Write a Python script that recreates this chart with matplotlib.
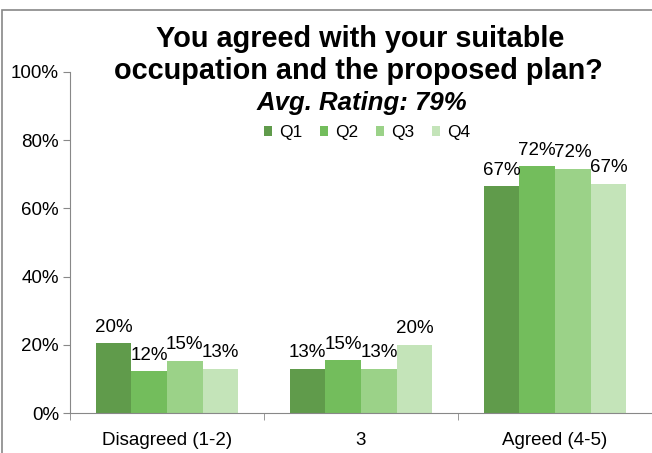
import numpy as np
import matplotlib
matplotlib.use('Agg')
import matplotlib.pyplot as plt
from matplotlib.patches import Rectangle

categories = ['Disagreed (1-2)', '3', 'Agreed (4-5)']
series = ['Q1', 'Q2', 'Q3', 'Q4']
q1 = [20.5, 13.0, 66.5]
q2 = [12.3, 15.5, 72.3]
q3 = [15.3, 13.0, 71.7]
q4 = [13.0, 20.0, 67.3]
labels = [['20%', '13%', '67%'], ['12%', '15%', '72%'], ['15%', '13%', '72%'], ['13%', '20%', '67%']]
colors = ['#609b4b', '#73bd5c', '#9bd288', '#c4e4b9']

plt.rcParams['font.family'] = ['Liberation Sans', 'DejaVu Sans']

fig = plt.figure(figsize=(6.52, 4.53), dpi=100)
# outer chart frame (partly cropped in the reference)
fig.patches.append(Rectangle((2/652, -0.01), 1.0, 1 - 10/453 + 0.01, transform=fig.transFigure,
                             fill=False, edgecolor='#888888', lw=1.2))
ax = fig.add_axes([70/652, 1 - 413/453, 582/652, (413 - 72)/453])

x = np.arange(len(categories))
w = 0.184
for i, vals in enumerate([q1, q2, q3, q4]):
    pos = x + (i - 1.5) * w
    ax.bar(pos, vals, w, color=colors[i], label=series[i])
    for p, v, t in zip(pos, vals, labels[i]):
        ax.text(p, v + 2.2, t, ha='center', va='bottom', fontsize=13.5)

ax.set_xlim(-0.5, 2.5)
ax.set_ylim(0, 100)
ax.set_yticks(range(0, 101, 20))
ax.set_yticklabels([f'{v}%' for v in range(0, 101, 20)], fontsize=13.5)
ax.set_xticks(x)
ax.set_xticklabels(categories, fontsize=13.5)
ax.set_xticks([-0.5, 0.5, 1.5, 2.5], minor=True)
ax.tick_params(axis='x', which='major', length=0, pad=14)
ax.tick_params(axis='x', which='minor', length=5, color='#888888')
ax.tick_params(axis='y', length=5, color='#888888', pad=3)
for s in ['top', 'right']:
    ax.spines[s].set_visible(False)
for s in ['left', 'bottom']:
    ax.spines[s].set_color('#888888')

fig.text(360/652, 1 - 47/453, 'You agreed with your suitable', ha='center', va='baseline',
         fontsize=20.8, fontweight='bold')
fig.text(358/652, 1 - 79/453, 'occupation and the proposed plan?', ha='center', va='baseline',
         fontsize=20.8, fontweight='bold')
fig.text(362/652, 1 - 110/453, 'Avg. Rating: 79%', ha='center', va='baseline',
         fontsize=18.5, fontweight='bold', style='italic')
ax.legend(loc='center', bbox_to_anchor=(367/652, 1 - 133/453), bbox_transform=fig.transFigure,
          ncol=4, frameon=False, fontsize=12.5, handlelength=0.48, handleheight=0.48,
          handletextpad=0.4, columnspacing=1.0, borderpad=0, borderaxespad=0)

fig.savefig('out.png', dpi=100)
